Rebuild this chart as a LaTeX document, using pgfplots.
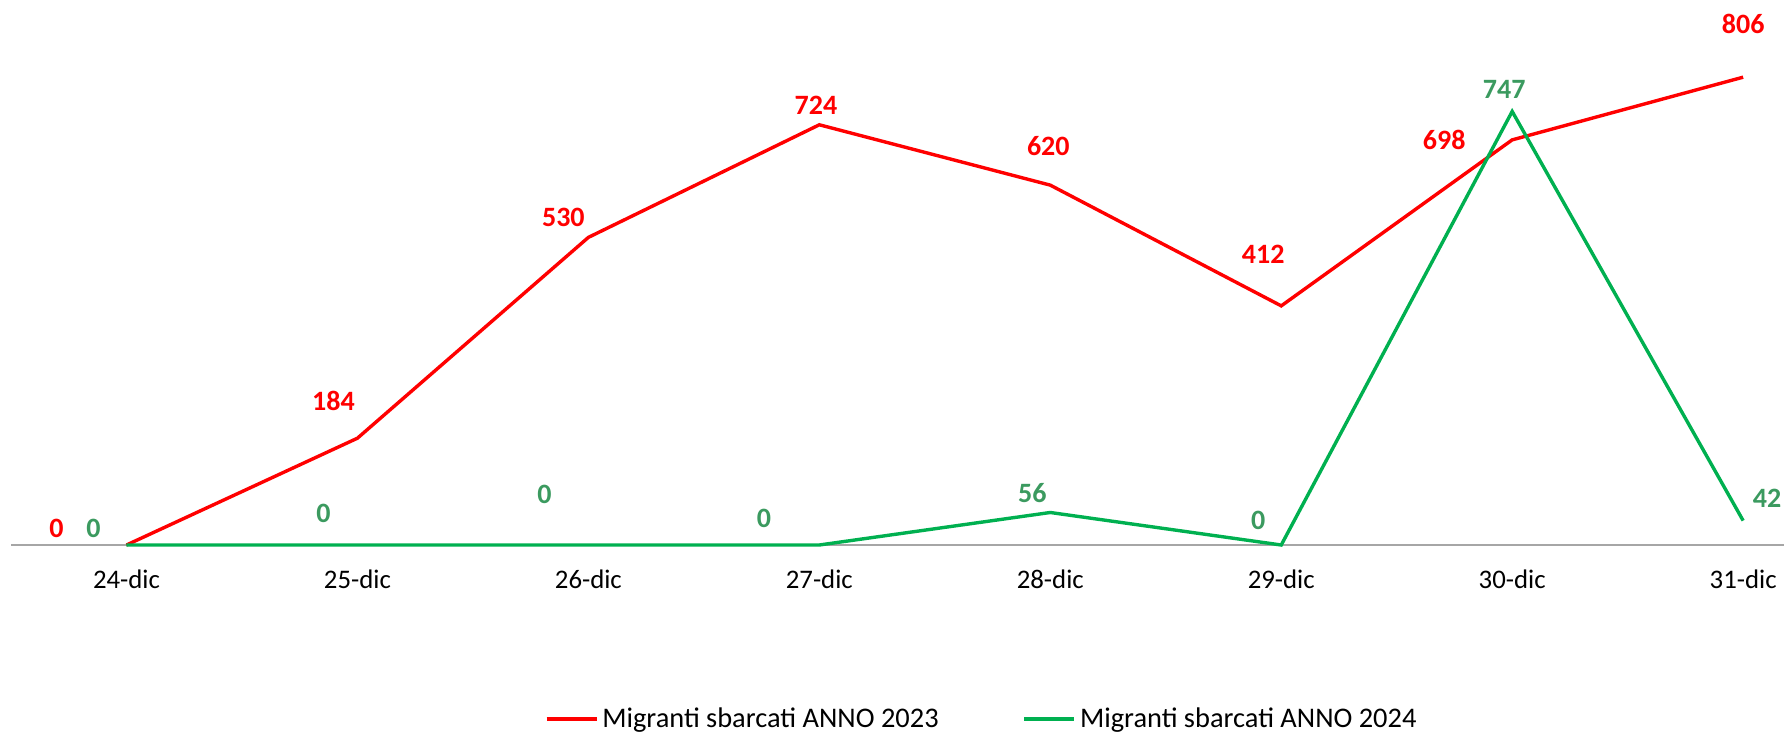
\documentclass[border=0pt]{standalone}
\usepackage{pgfplots}
\usepackage{pgfplotstable}
\pgfplotsset{compat=1.18}
\usepackage{fontspec}
\setmainfont{Carlito}
\definecolor{lred}{HTML}{FF0000}
\definecolor{lgreen}{HTML}{00B050}
\definecolor{tgreen}{HTML}{3B9A5F}
\definecolor{axgray}{HTML}{A6A6A6}

\pgfplotstableread{
x y dx dy
0 0 -35 8.5
1 184 -12 18.8
2 530 -12.5 10.2
3 724 -1.7 9.7
4 620 -1 19.3
5 412 -9 26
6 698 -34 0
7 806 0 26.7
}\reddata

\pgfplotstableread{
x y dx dy
0 0 -16.5 8.5
1 0 -17 16
2 0 -22 25.5
3 0 -27.7 13.5
4 56 -9 9.7
5 0 -11.5 12.5
6 747 -4 11
7 42 12 11
}\greendata

\begin{document}
\begin{tikzpicture}
\begin{axis}[
  name=ax,
  scale only axis,
  width=886.5pt, height=272.5pt,
  xmin=-0.5, xmax=7.177,
  ymin=0, ymax=939,
  clip=false,
  /pgf/number format/assume math mode=true,
  axis x line=bottom,
  axis y line=none,
  axis line style={draw=axgray, line width=0.85pt, -},
  xtick={0,1,2,3,4,5,6,7},
  xticklabels={24-dic,25-dic,26-dic,27-dic,28-dic,29-dic,30-dic,31-dic},
  major tick length=0pt,
  xticklabel style={anchor=center, yshift=-17pt, font=\fontsize{13.4}{15}\selectfont, text=black},
  legend style={at={(0.548,-0.319)}, anchor=center, draw=none,
    font=\fontsize{14.2}{16}\selectfont, /tikz/every even column/.append style={column sep=40pt}},
  legend columns=2,
  legend image code/.code={\draw[#1] (0pt,0pt) -- (25pt,0pt);},
  nodes near coords={\pgfmathprintnumber[assume math mode=true]{\pgfplotspointmeta}},
  every node near coord/.append style={anchor=center, font=\bfseries\fontsize{14}{14}\selectfont, xshift=\dx pt, yshift=\dy pt},
  visualization depends on={\thisrow{dx}\as\dx},
  visualization depends on={\thisrow{dy}\as\dy},
]
\addplot[lred, line width=1.7pt, mark=none, nodes near coords style={text=lred}] table[x=x,y=y] {\reddata};
\addlegendentry{Migranti sbarcati ANNO 2023}
\addplot[lgreen, line width=1.7pt, mark=none, nodes near coords style={text=tgreen}] table[x=x,y=y] {\greendata};
\addlegendentry{Migranti sbarcati ANNO 2024}
\end{axis}
\pgfresetboundingbox
\path[use as bounding box] ([xshift=-5.5pt, yshift=-94.5pt]ax.south west) rectangle (ax.north east);
\end{tikzpicture}
\end{document}
